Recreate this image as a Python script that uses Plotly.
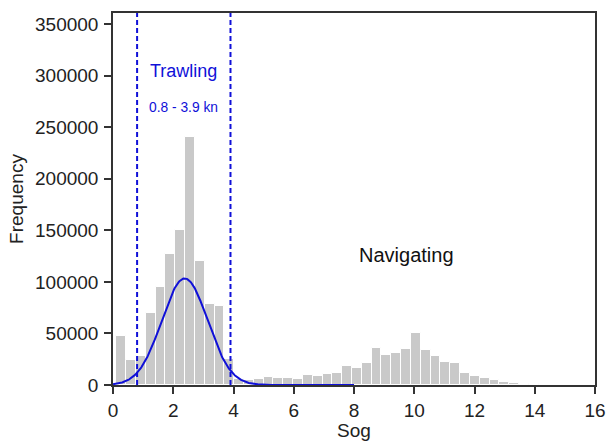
import numpy as np
import plotly.graph_objects as go

# ---- data ----
bin_start = 0.11
bin_width = 0.326
counts = [47400, 24000, 28000, 70000, 94800, 127400, 150600, 240000, 120600,
          78300, 77000, 25500, 5500, 5200, 5800, 8000, 6800, 6800, 5800, 9700,
          8400, 10600, 11600, 18400, 16400, 21300, 36100, 28700, 31000, 34900,
          50700, 34200, 28100, 22600, 21300, 11300, 9000, 6800, 4800, 2600,
          1600, 1300, 1000]
fit_mean = 2.38
fit_sd = 0.76
fit_peak = 103300
fit_xmax = 8.0
trawl_low = 0.8
trawl_high = 3.9
x_ticks = [0, 2, 4, 6, 8, 10, 12, 14, 16]
y_ticks = [0, 50000, 100000, 150000, 200000, 250000, 300000, 350000]

centers = [bin_start + (i + 0.5) * bin_width for i in range(len(counts))]
fx = np.linspace(0, fit_xmax, 400)
fy = fit_peak * np.exp(-((fx - fit_mean) ** 2) / (2 * fit_sd ** 2))

BLUE = "#1010d8"
FONT = "Liberation Sans, Arial, sans-serif"

fig = go.Figure()
fig.add_trace(go.Bar(x=centers, y=counts, width=bin_width,
                     marker=dict(color="#c9c9c9", line=dict(color="white", width=1)),
                     showlegend=False))
fig.add_trace(go.Scatter(x=fx, y=fy, mode="lines",
                         line=dict(color=BLUE, width=2), showlegend=False))
for xv in (trawl_low, trawl_high):
    fig.add_shape(type="line", x0=xv, x1=xv, y0=0, y1=1, xref="x", yref="paper",
                  line=dict(color=BLUE, width=2, dash="5px,3px"))

fig.add_annotation(x=(trawl_low + trawl_high) / 2, y=0.876, xref="x", yref="paper",
                   text="Trawling", showarrow=False,
                   font=dict(family=FONT, size=18, color=BLUE))
fig.add_annotation(x=(trawl_low + trawl_high) / 2, y=0.772, xref="x", yref="paper",
                   text="0.8 - 3.9 kn", showarrow=False,
                   font=dict(family=FONT, size=13.8, color=BLUE))
fig.add_annotation(x=9.73, y=0.35, xref="x", yref="paper",
                   text="Navigating", showarrow=False,
                   font=dict(family=FONT, size=20, color="#111111"))

axis_common = dict(showline=True, linecolor="#333333", linewidth=1.5, mirror=True,
                   ticks="outside", ticklen=7, tickwidth=1.5, tickcolor="#333333",
                   showgrid=False, zeroline=False, automargin=False,
                   tickfont=dict(family=FONT, size=19, color="#222222"))

fig.update_layout(
    width=606, height=441,
    margin=dict(l=113, r=11, t=13, b=56),
    paper_bgcolor="white", plot_bgcolor="white",
    bargap=0,
    xaxis=dict(range=[0, 16], tickvals=x_ticks,
               title=dict(text="Sog", font=dict(family=FONT, size=19, color="#222222"), standoff=4),
               **axis_common),
    yaxis=dict(range=[0, 360700], tickvals=y_ticks, tickformat="d", ticklabelstandoff=2,
               title=dict(text="Frequency", font=dict(family=FONT, size=19, color="#222222"), standoff=6),
               **axis_common),
)
fig.write_html("out.html", config={"displayModeBar": False},
               post_script="document.body.style.margin='0';document.body.style.padding='0';")
